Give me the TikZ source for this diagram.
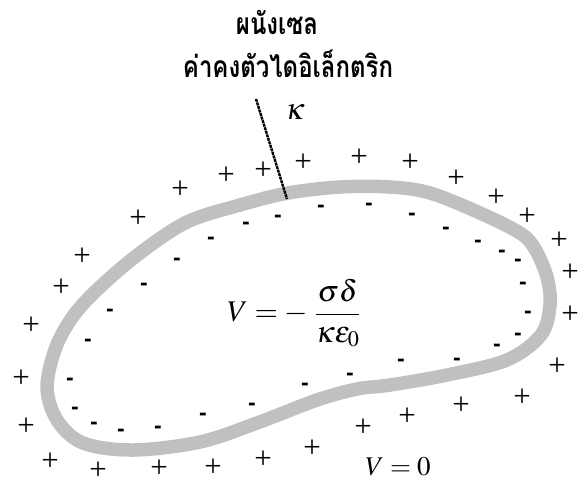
\documentclass[tikz,border=0pt]{standalone}
\usepackage{mathptmx}
\usepackage[no-math]{fontspec}
\newfontfamily\thaifont[Script=Thai,FakeStretch=0.8]{Loma}
\newfontfamily\signfont{Liberation Serif}
\newfontfamily\minusfont{Liberation Sans}
\definecolor{wallgray}{HTML}{C0C0C0}
\begin{document}
\begin{tikzpicture}[x=1pt,y=-1pt,
  plus/.style={inner sep=0pt,font=\signfont\fontsize{31}{33}\selectfont},
  minus/.style={inner sep=0pt,font=\minusfont\bfseries\fontsize{23}{24}\selectfont},
  wall/.style={draw=wallgray,line width=13.5pt,line join=round},
  leader/.style={draw=black,line width=2.4pt,dash pattern=on 3pt off 0.7pt},
  thai/.style={inner sep=0pt,font=\thaifont\bfseries\fontsize{30}{34}\selectfont},
  eq/.style={inner sep=0pt,font=\fontsize{30}{34}\selectfont}]
\useasboundingbox (0,0) rectangle (580,485);
% wall
\draw[wall] plot[smooth cycle,tension=0.55] coordinates {
 (288,193) (340,187) (390,187) (430,193) (480,213) (520,233) (535,249)
 (547,277) (550,305) (541,335) (507,360) (447,375) (390,385) (357,389)
 (317,400) (257,423) (200,442) (133,450) (83,443) (57,420) (47,387)
 (56,347) (74,315) (100,287) (140,253) (187,222) (240,205)};
% leader
\coordinate (lt) at (256,99);
\coordinate (lb) at (287,199);
\draw[leader] (lt) -- (lb);
% labels
\node[thai] (t1) at (277,22) {ผนังเซล};
\node[thai] (t2) at (288,64) {ค่าคงตัวไดอิเล็กตริก};
\node[eq] (kap) at (295,112) {$\kappa$};
\node[eq] (fo) at (294,313) {$\displaystyle V=-\,\,\frac{\sigma\delta}{\kappa\varepsilon_{0}}$};
\node[eq,font=\fontsize{27}{30}\selectfont] (v0) at (398,467) {$V=0$};
% plus signs
\foreach \x/\y [count=\i] in {
 180/190,138/219,82/257,61/288,31/326,21/379,26/427,50/462,98/471,159/469,
 213/468,263/460,312/449,363/428,407/417,461/406,522/398,557/367,570/315,
 570/273,559/241,527/217,496/198,456/179,410/163,359/158,303/163,263/171,226/176}
 \node[plus] (p\i) at (\x,\y) {+};
% minus signs
\foreach \x/\y [count=\i] in {
 177/262,144/287,110/313,88/343,70/382,75/411,94/426,121/433,158/430,
 203/417,252/407,305/387,350/377,401/363,457/362,497/348,518/337,528/315,
 523/286,518/263,502/254,478/244,446/231,412/217,369/207,321/209,
 278/219,246/226,211/241}
 \node[minus] (m\i) at (\x,\y) {-};
\end{tikzpicture}
\end{document}
